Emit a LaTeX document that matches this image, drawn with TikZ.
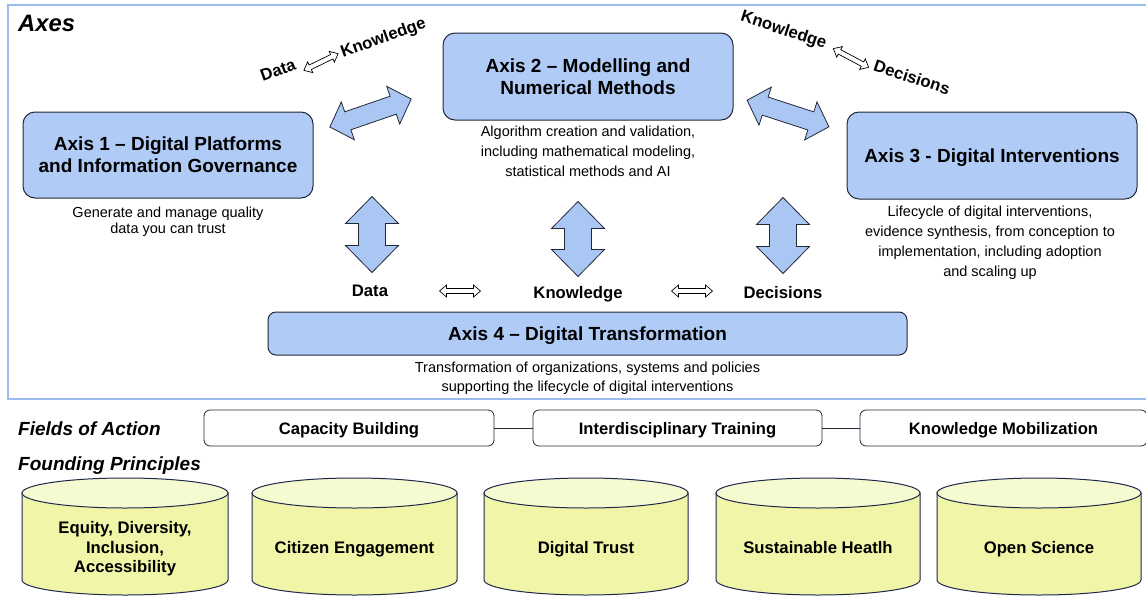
\documentclass[tikz,border=0pt]{standalone}
\usepackage{fontspec}
\setmainfont{Liberation Sans}
\usetikzlibrary{positioning}

\definecolor{axisblue}{RGB}{175,203,246}
\definecolor{arrowblue}{RGB}{170,199,243}
\definecolor{framecol}{RGB}{153,187,238}
\definecolor{linecol}{RGB}{35,40,55}
\definecolor{cylline}{RGB}{30,40,75}
\definecolor{cylbody}{RGB}{240,245,168}
\definecolor{cyltop}{RGB}{246,250,208}

% block double arrow: centre, angle, length, head length, half head width, half shaft width, style
\newcommand{\dblarrow}[7]{%
  \begin{scope}[shift={#1},rotate=#2]
    \draw[#7] (-#3/2,0) -- (-#3/2+#4,#5) -- (-#3/2+#4,#6) -- (#3/2-#4,#6)
      -- (#3/2-#4,#5) -- (#3/2,0) -- (#3/2-#4,-#5) -- (#3/2-#4,-#6)
      -- (-#3/2+#4,-#6) -- (-#3/2+#4,-#5) -- cycle;
  \end{scope}}

\begin{document}
\begin{tikzpicture}[x=1pt,y=1pt,
  axis/.style={draw=linecol,fill=axisblue,line width=1pt,rounded corners=12pt,
    align=center,inner sep=0pt,text depth=0pt,font=\bfseries\fontsize{19}{22}\selectfont},
  desc/.style={align=center,inner sep=0pt},
  lbl/.style={font=\bfseries\fontsize{16.7}{20}\selectfont,inner sep=0pt,text depth=0pt},
  head/.style={anchor=west,inner sep=0pt,text depth=0pt,font=\bfseries\itshape\fontsize{19}{22}\selectfont},
  field/.style={draw=linecol,fill=white,line width=0.8pt,rounded corners=6pt,text depth=0pt,
    minimum height=36pt,inner sep=0pt,font=\bfseries\fontsize{16.6}{20}\selectfont},
  bigarrow/.style={draw=linecol,fill=arrowblue,line width=0.8pt},
  smallarrow/.style={draw=black,fill=white,line width=0.7pt},
  cyl/.style={draw=cylline,line width=1pt}]

\useasboundingbox (0,0) rectangle (1146,-595);

% Axes frame
\draw[framecol,line width=2pt] (8,-5) rectangle (1170,-399);
\node[head,font=\bfseries\itshape\fontsize{23.8}{26}\selectfont] (axes) at (18,-23.5) {Axes};

% Axis boxes
\node[axis,minimum width=290pt,minimum height=86pt] (ax1) at (168,-155)
  {Axis 1 -- Digital Platforms\\and Information Governance};
\node[axis,minimum width=290pt,minimum height=87pt] (ax2) at (588,-76.5)
  {Axis 2 -- Modelling and\\Numerical Methods};
\node[axis,minimum width=290pt,minimum height=87pt] (ax3) at (992,-155.5)
  {Axis 3 - Digital Interventions};
\node[axis,minimum width=639pt,minimum height=43pt,rounded corners=8pt] (ax4) at (587.5,-333.5)
  {Axis 4 -- Digital Transformation};

% Descriptions
\node[desc,font=\fontsize{14.5}{16}\selectfont,below=8.5pt of ax1] (ds1)
  {Generate and manage quality\\data you can trust};
\node[desc,font=\fontsize{14.5}{20}\selectfont,below=5pt of ax2] (ds2)
  {Algorithm creation and validation,\\including mathematical modeling,\\statistical methods and AI};
\node[desc,font=\fontsize{14.5}{20}\selectfont,below=6pt of ax3,xshift=-2pt] (ds3)
  {Lifecycle of digital interventions,\\evidence synthesis, from conception to\\implementation, including adoption\\and scaling up};
\node[desc,font=\fontsize{14.5}{19}\selectfont,below=6pt of ax4] (ds4)
  {Transformation of organizations, systems and policies\\supporting the lifecycle of digital interventions};

% Arrows between the axes
\dblarrow{(370.5,-113)}{19}{86}{19}{20}{9.5}{bigarrow}
\dblarrow{(788,-113.5)}{-18}{86}{19}{20}{9.5}{bigarrow}
\dblarrow{(372,-234.5)}{90}{76}{27}{26.5}{13.5}{bigarrow}
\dblarrow{(578,-239)}{90}{75}{27}{26.5}{13.5}{bigarrow}
\dblarrow{(783,-235.5)}{90}{76}{27}{26.5}{13.5}{bigarrow}

% Data - Knowledge - Decisions
\node[lbl] (data) at (370,-291) {Data};
\node[lbl] (know) at (578,-292) {Knowledge};
\node[lbl] (deci) at (783,-292) {Decisions};
\dblarrow{(460,-291)}{0}{41}{7}{6}{2.5}{smallarrow}
\dblarrow{(692,-291)}{0}{41}{7}{6}{2.5}{smallarrow}

\node[lbl,rotate=20] (data1) at (278,-70) {Data};
\node[lbl,rotate=20] (know1) at (383,-37) {Knowledge};
\dblarrow{(321,-62)}{26}{38}{7}{6}{2.5}{smallarrow}
\node[lbl,rotate=-18] (know2) at (784,-29) {Knowledge};
\node[lbl,rotate=-18] (deci2) at (912,-77) {Decisions};
\dblarrow{(851,-58)}{-28}{40}{7}{6}{2.5}{smallarrow}

% Fields of action
\node[head] (fields) at (18,-428.5) {Fields of Action};
\node[field,minimum width=290pt] (cap) at (349,-428) {Capacity Building};
\node[field,minimum width=289pt] (inter) at (677.5,-428) {Interdisciplinary Training};
\node[field,minimum width=287pt] (mobil) at (1003.5,-428) {Knowledge Mobilization};
\draw[linecol,line width=0.8pt] (cap) -- (inter);
\draw[linecol,line width=0.8pt] (inter) -- (mobil);

% Founding principles
\node[head] (found) at (18,-463.5) {Founding Principles};
\foreach \cx/\rx/\nm/\txt in {125/103/p1/{Equity, Diversity,\\Inclusion,\\Accessibility},
    354.5/102.5/p2/{Citizen Engagement}, 586/102/p3/{Digital Trust},
    818/102/p4/{Sustainable Heatlh}, 1039/102/p5/{Open Science}}{
  \filldraw[cyl,fill=cylbody] (\cx-\rx,-493) -- (\cx-\rx,-580)
    arc[start angle=180,end angle=360,x radius=\rx,y radius=15] -- (\cx+\rx,-493) -- cycle;
  \filldraw[cyl,fill=cyltop] (\cx,-493) ellipse[x radius=\rx,y radius=15];
  \node[lbl,align=center,font=\bfseries\fontsize{16.7}{19.5}\selectfont] (\nm) at (\cx,-547) {\txt};
}

\end{tikzpicture}
\end{document}
